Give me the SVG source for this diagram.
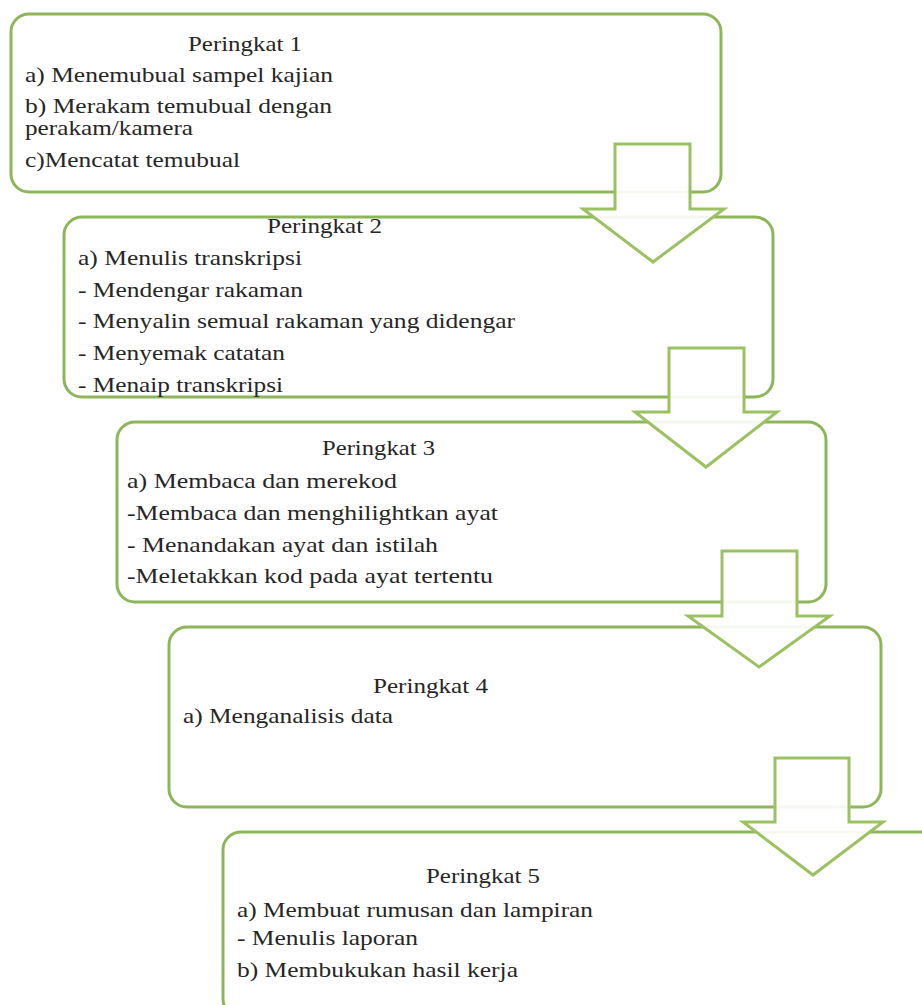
<svg xmlns="http://www.w3.org/2000/svg" width="922" height="1005" viewBox="0 0 922 1005">
<defs>
<style>
.box{fill:#ffffff;stroke:#8db55a;stroke-width:3}
.arr{fill:#ffffff;fill-opacity:0.9;stroke:#9bc163;stroke-width:3;stroke-linejoin:miter}
text{font-family:"Times New Roman","Liberation Serif",Tinos,serif;font-size:21px;fill:#262626}
</style>
</defs>
<rect width="922" height="1005" fill="#ffffff"/>
<g id="node1">
<rect class="box" x="11" y="14" width="710" height="178" rx="18"/>
<text x="188" y="51" textLength="114" lengthAdjust="spacingAndGlyphs">Peringkat 1</text>
<text x="25" y="82" textLength="308" lengthAdjust="spacingAndGlyphs">a) Menemubual sampel kajian</text>
<text x="25" y="113" textLength="307" lengthAdjust="spacingAndGlyphs">b) Merakam temubual dengan</text>
<text x="25" y="135" textLength="168" lengthAdjust="spacingAndGlyphs">perakam/kamera</text>
<text x="25" y="167" textLength="215" lengthAdjust="spacingAndGlyphs">c)Mencatat temubual</text>
</g>
<g id="node2">
<rect class="box" x="64" y="217" width="709" height="180" rx="18"/>
<text x="267" y="233" textLength="115" lengthAdjust="spacingAndGlyphs">Peringkat 2</text>
<text x="78" y="265" textLength="224" lengthAdjust="spacingAndGlyphs">a) Menulis transkripsi</text>
<text x="78" y="297" textLength="225" lengthAdjust="spacingAndGlyphs">- Mendengar rakaman</text>
<text x="78" y="328" textLength="437" lengthAdjust="spacingAndGlyphs">- Menyalin semual rakaman yang didengar</text>
<text x="78" y="360" textLength="207" lengthAdjust="spacingAndGlyphs">- Menyemak catatan</text>
<text x="78" y="392" textLength="205" lengthAdjust="spacingAndGlyphs">- Menaip transkripsi</text>
</g>
<g id="node3">
<rect class="box" x="117" y="422" width="709" height="180" rx="18"/>
<text x="322" y="455" textLength="113" lengthAdjust="spacingAndGlyphs">Peringkat 3</text>
<text x="127" y="488" textLength="270" lengthAdjust="spacingAndGlyphs">a) Membaca dan merekod</text>
<text x="127" y="520" textLength="371" lengthAdjust="spacingAndGlyphs">-Membaca dan menghilightkan ayat</text>
<text x="127" y="552" textLength="311" lengthAdjust="spacingAndGlyphs">- Menandakan ayat dan istilah</text>
<text x="127" y="583" textLength="366" lengthAdjust="spacingAndGlyphs">-Meletakkan kod pada ayat tertentu</text>
</g>
<g id="node4">
<rect class="box" x="169" y="627" width="712" height="180" rx="18"/>
<text x="373" y="693" textLength="115" lengthAdjust="spacingAndGlyphs">Peringkat 4</text>
<text x="183" y="723" textLength="210" lengthAdjust="spacingAndGlyphs">a) Menganalisis data</text>
</g>
<g id="node5">
<rect class="box" x="223" y="832" width="760" height="185" rx="18"/>
<text x="426" y="883" textLength="114" lengthAdjust="spacingAndGlyphs">Peringkat 5</text>
<text x="237" y="917" textLength="356" lengthAdjust="spacingAndGlyphs">a) Membuat rumusan dan lampiran</text>
<text x="237" y="945" textLength="181" lengthAdjust="spacingAndGlyphs">- Menulis laporan</text>
<text x="237" y="977" textLength="281" lengthAdjust="spacingAndGlyphs">b) Membukukan hasil kerja</text>
</g>
<g id="connectors">
<polygon class="arr" points="615,144 690,144 690,209 724,209 653,262 583,209 615,209"/>
<polygon class="arr" points="669,348 744,348 744,412 777,412 706,467 635,412 669,412"/>
<polygon class="arr" points="722,551 797,551 797,616 830,616 759,667 688,616 722,616"/>
<polygon class="arr" points="775,758 849,758 849,822 883,822 813,875 743,822 775,822"/>
</g>
</svg>
